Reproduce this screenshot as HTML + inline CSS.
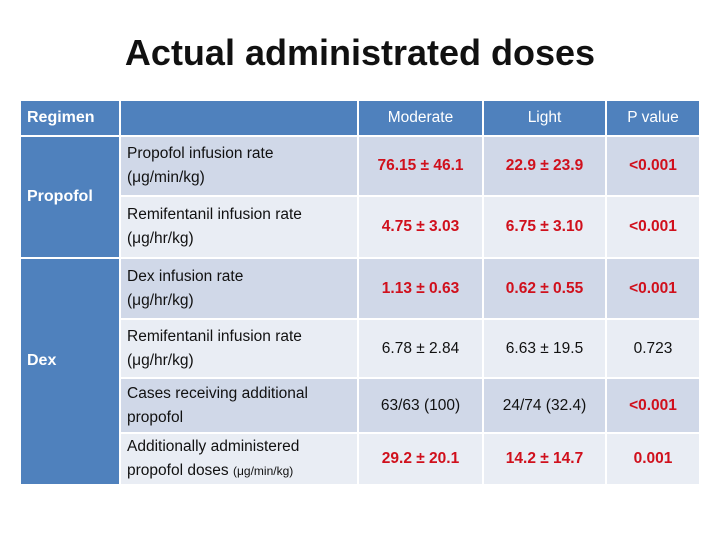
<!DOCTYPE html>
<html><head><meta charset="utf-8"><style>
body{margin:0;width:720px;height:540px;background:#fff;font-family:"Liberation Sans","Noto Sans CJK KR",sans-serif;position:relative;overflow:hidden}
.c{position:absolute;box-sizing:border-box;display:flex;align-items:center;font-size:15.5px;color:#111}
.h{background:#4f81bd;color:#fff}
.d{background:#d0d8e8}.l{background:#e9edf4}
.ctr{justify-content:center;text-align:center}
.r{color:#d0101c;font-weight:bold}
.t{padding-left:6px;line-height:24px}
</style></head><body>
<div style="position:absolute;top:32px;left:0;width:720px;text-align:center;font-size:36px;font-weight:bold;color:#111">Actual administrated doses</div>
<div>
<div class="c h t" style="left:21px;top:101px;width:98px;height:34px;font-weight:bold;font-size:16px">Regimen</div>
<div class="c h" style="left:121px;top:101px;width:236px;height:34px"></div>
<div class="c h ctr" style="left:359px;top:101px;width:123px;height:34px">Moderate</div>
<div class="c h ctr" style="left:484px;top:101px;width:121px;height:34px">Light</div>
<div class="c h ctr" style="left:607px;top:101px;width:92px;height:34px">P value</div>
<div class="c h t" style="left:21px;top:137px;width:98px;height:120px;font-weight:bold;font-size:16px">Propofol</div>
<div class="c h t" style="left:21px;top:259px;width:98px;height:225px;font-weight:bold;font-size:16px;padding-bottom:22px">Dex</div>

<div class="c d t" style="left:121px;top:137px;width:236px;height:58px"><div>Propofol infusion rate<br>(μg/min/kg)</div></div>
<div class="c d ctr r" style="left:359px;top:137px;width:123px;height:58px">76.15 ± 46.1</div>
<div class="c d ctr r" style="left:484px;top:137px;width:121px;height:58px">22.9 ± 23.9</div>
<div class="c d ctr r" style="left:607px;top:137px;width:92px;height:58px">&lt;0.001</div>

<div class="c l t" style="left:121px;top:197px;width:236px;height:60px"><div>Remifentanil infusion rate<br>(μg/hr/kg)</div></div>
<div class="c l ctr r" style="left:359px;top:197px;width:123px;height:60px">4.75 ± 3.03</div>
<div class="c l ctr r" style="left:484px;top:197px;width:121px;height:60px">6.75 ± 3.10</div>
<div class="c l ctr r" style="left:607px;top:197px;width:92px;height:60px">&lt;0.001</div>

<div class="c d t" style="left:121px;top:259px;width:236px;height:59px"><div>Dex infusion rate<br>(μg/hr/kg)</div></div>
<div class="c d ctr r" style="left:359px;top:259px;width:123px;height:59px">1.13 ± 0.63</div>
<div class="c d ctr r" style="left:484px;top:259px;width:121px;height:59px">0.62 ± 0.55</div>
<div class="c d ctr r" style="left:607px;top:259px;width:92px;height:59px">&lt;0.001</div>

<div class="c l t" style="left:121px;top:320px;width:236px;height:57px"><div>Remifentanil infusion rate<br>(μg/hr/kg)</div></div>
<div class="c l ctr" style="left:359px;top:320px;width:123px;height:57px">6.78 ± 2.84</div>
<div class="c l ctr" style="left:484px;top:320px;width:121px;height:57px">6.63 ± 19.5</div>
<div class="c l ctr" style="left:607px;top:320px;width:92px;height:57px">0.723</div>

<div class="c d t" style="left:121px;top:379px;width:236px;height:53px"><div>Cases receiving additional<br>propofol</div></div>
<div class="c d ctr" style="left:359px;top:379px;width:123px;height:53px">63/63 (100)</div>
<div class="c d ctr" style="left:484px;top:379px;width:121px;height:53px">24/74 (32.4)</div>
<div class="c d ctr r" style="left:607px;top:379px;width:92px;height:53px">&lt;0.001</div>

<div class="c l t" style="left:121px;top:434px;width:236px;height:50px"><div>Additionally administered<br>propofol doses <span style="font-size:12px">(μg/min/kg)</span></div></div>
<div class="c l ctr r" style="left:359px;top:434px;width:123px;height:50px">29.2 ± 20.1</div>
<div class="c l ctr r" style="left:484px;top:434px;width:121px;height:50px">14.2 ± 14.7</div>
<div class="c l ctr r" style="left:607px;top:434px;width:92px;height:50px">0.001</div>
</div>
</body></html>
